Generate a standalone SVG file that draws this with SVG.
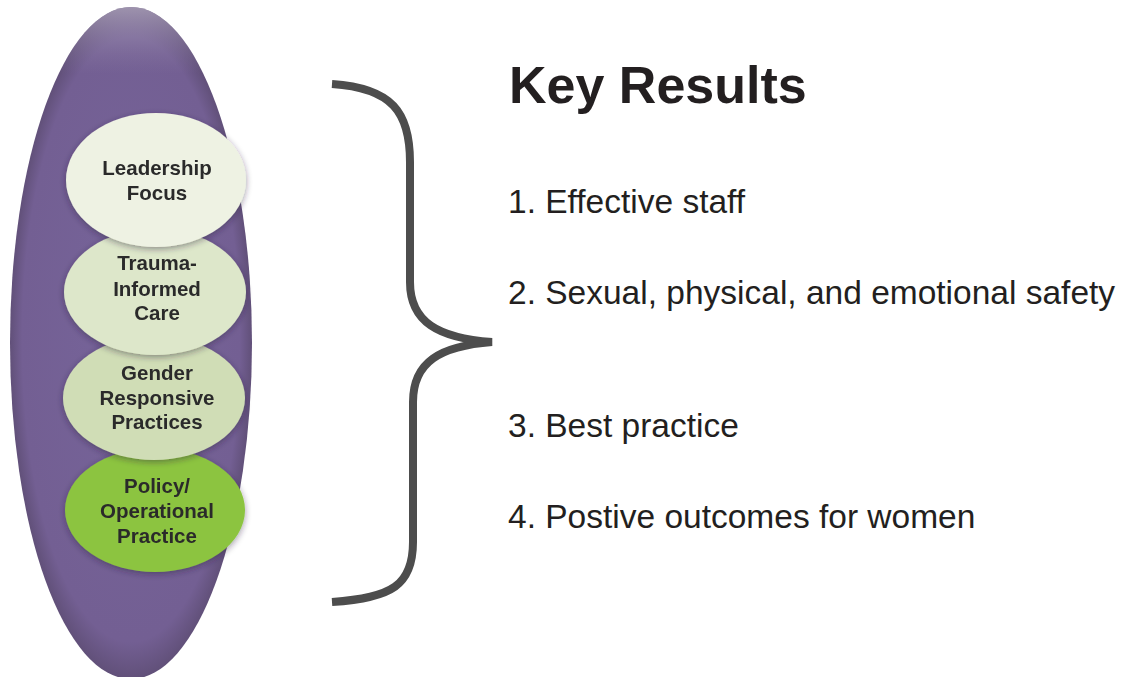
<svg xmlns="http://www.w3.org/2000/svg" width="1121" height="677" viewBox="0 0 1121 677">
<defs>
<radialGradient id="outerG" cx="0.5" cy="0.5" r="0.5" fx="0.5" fy="0.45">
<stop offset="0" stop-color="#76649a"/>
<stop offset="0.9" stop-color="#735f93"/>
<stop offset="1" stop-color="#615079"/>
</radialGradient>
<linearGradient id="topG" x1="0" y1="0" x2="0" y2="1">
<stop offset="0" stop-color="#b8b0c4" stop-opacity="0.7"/>
<stop offset="0.1" stop-color="#8f81a8" stop-opacity="0"/>
</linearGradient>
<filter id="sh" x="-20%" y="-20%" width="140%" height="140%">
<feGaussianBlur in="SourceAlpha" stdDeviation="3"/>
<feOffset dx="0" dy="2" result="b"/>
<feFlood flood-color="#2a1f3a" flood-opacity="0.45"/>
<feComposite in2="b" operator="in"/>
<feMerge><feMergeNode/><feMergeNode in="SourceGraphic"/></feMerge>
</filter>
<style>
.lbl{font-family:"Liberation Sans",Arial,sans-serif;font-weight:bold;font-size:20.5px;fill:#2b2b2b;text-anchor:middle}
.item{font-family:"Liberation Sans",Arial,sans-serif;font-size:33.5px;fill:#231f20}
.title{font-family:"Liberation Sans",Arial,sans-serif;font-weight:bold;font-size:52px;fill:#231f20}
.brace{fill:none;stroke:#4d4d4d;stroke-width:8;stroke-linecap:butt}
</style>
</defs>
<rect width="1121" height="677" fill="#ffffff"/>
<g id="outer">
<ellipse cx="131" cy="343" rx="121" ry="336" fill="url(#outerG)"/>
<ellipse cx="131" cy="343" rx="121" ry="336" fill="url(#topG)"/>
</g>
<g id="node-policy" filter="url(#sh)">
<ellipse cx="155" cy="510" rx="90" ry="62" fill="#8cc43f"/>
<text class="lbl" x="157" y="493">Policy/</text>
<text class="lbl" x="157" y="518">Operational</text>
<text class="lbl" x="157" y="543">Practice</text>
</g>
<g id="node-gender" filter="url(#sh)">
<ellipse cx="154" cy="398" rx="91" ry="62" fill="#d0ddb6"/>
<text class="lbl" x="157" y="380">Gender</text>
<text class="lbl" x="157" y="405">Responsive</text>
<text class="lbl" x="157" y="429">Practices</text>
</g>
<g id="node-trauma" filter="url(#sh)">
<ellipse cx="155" cy="292" rx="91" ry="63" fill="#dde7ca"/>
<text class="lbl" x="157" y="270">Trauma-</text>
<text class="lbl" x="157" y="296">Informed</text>
<text class="lbl" x="157" y="320">Care</text>
</g>
<g id="node-leadership" filter="url(#sh)">
<ellipse cx="156" cy="180" rx="90" ry="67" fill="#eef2e3"/>
<text class="lbl" x="157" y="175">Leadership</text>
<text class="lbl" x="157" y="200">Focus</text>
</g>
<g id="connectors">
<path class="brace" d="M332,84 C392,88 410,112 410,162 L410,282 C410,322 438,338 492,342 C440,346 413,362 413,402 L413,542 C413,585 392,598 332,602"/>
</g>
<g id="results">
<text class="title" x="509" y="103">Key Results</text>
<text class="item" x="508" y="213">1. Effective staff</text>
<text class="item" x="508" y="304">2. Sexual, physical, and emotional safety</text>
<text class="item" x="508" y="437">3. Best practice</text>
<text class="item" x="508" y="528">4. Postive outcomes for women</text>
</g>
</svg>
